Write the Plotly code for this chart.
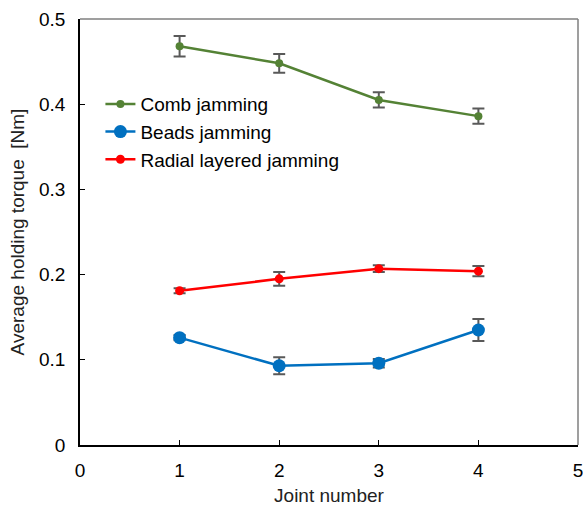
import plotly.graph_objects as go

joints = [1, 2, 3, 4]
comb = [0.468, 0.448, 0.405, 0.386]
comb_err = [0.012, 0.011, 0.009, 0.009]
beads = [0.126, 0.093, 0.096, 0.135]
beads_err = [0.003, 0.010, 0.005, 0.013]
radial = [0.181, 0.195, 0.207, 0.204]
radial_err = [0.003, 0.008, 0.004, 0.006]

FONT = "Liberation Sans, Arial, sans-serif"
FS = 19
ERR = "#595959"

fig = go.Figure()
series = [
    ("Comb jamming", comb, comb_err, "#548235", 8),
    ("Beads jamming", beads, beads_err, "#0070C0", 13),
    ("Radial layered jamming", radial, radial_err, "#FF0000", 9),
]
for name, ys, es, col, ms in series:
    fig.add_trace(go.Scatter(
        x=joints, y=ys, name=name, mode="lines+markers",
        line=dict(color=col, width=2.5),
        marker=dict(color=col, size=ms, symbol="circle"),
        error_y=dict(type="data", array=es, visible=True, color=ERR, thickness=2, width=6),
    ))

axis_common = dict(
    showgrid=False, zeroline=False, showline=True, linecolor="black", linewidth=1.5,
    ticks="inside", ticklen=5, tickwidth=1, tickcolor="black",
    tickfont=dict(family=FONT, size=FS, color="black"),
    ticklabeloverflow="allow",
)
fig.update_layout(
    width=583, height=506,
    margin=dict(l=80, r=5, t=19, b=61, autoexpand=False),
    plot_bgcolor="white", paper_bgcolor="white",
    font=dict(family=FONT, size=FS, color="black"),
    xaxis=dict(range=[0, 5], dtick=1, tick0=0, ticklabelstandoff=7,
               title=dict(text="Joint number", font=dict(family=FONT, size=FS, color="#222"), standoff=9),
               **axis_common),
    yaxis=dict(range=[0, 0.5], dtick=0.1, tick0=0, tickformat="~g", ticklabelstandoff=9,
               title=dict(text="Average holding torque  [Nm]", font=dict(family=FONT, size=FS, color="#222"), standoff=9),
               **axis_common),
    legend=dict(x=0.041, y=0.845, xanchor="left", yanchor="top", bgcolor="rgba(0,0,0,0)",
                font=dict(family=FONT, size=FS, color="black"), tracegroupgap=0),
    showlegend=True,
    shapes=[
        dict(type="line", xref="paper", yref="paper", x0=0, x1=1, y0=1, y1=1,
             line=dict(color="#7f7f7f", width=1.5)),
        dict(type="line", xref="paper", yref="paper", x0=1, x1=1, y0=0, y1=1,
             line=dict(color="#7f7f7f", width=1.5)),
    ],
)
fig.write_html("out.html", config={"displayModeBar": False},
               post_script="document.body.style.margin='0';document.body.style.overflow='hidden';")
